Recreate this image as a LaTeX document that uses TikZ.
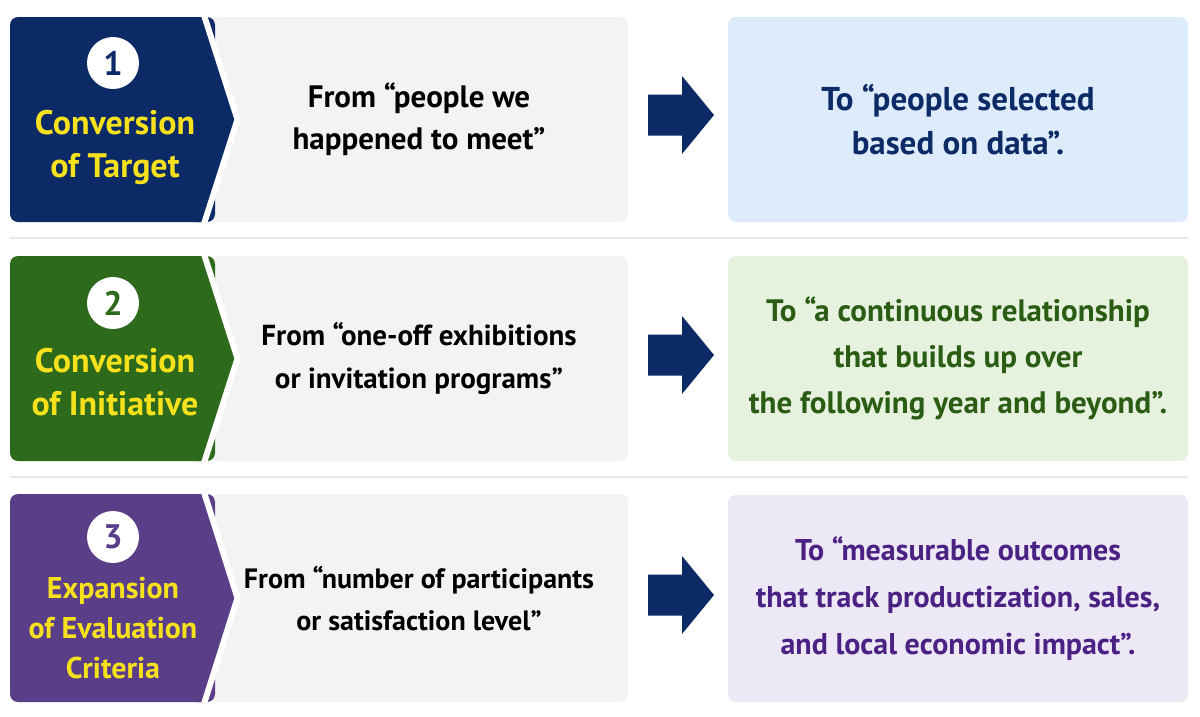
\documentclass[tikz,border=0pt]{standalone}
\usepackage{fontspec}
\setmainfont{PT Sans}
\usetikzlibrary{positioning,calc}

\definecolor{navyband}{HTML}{0B2A66}
\definecolor{greenband}{HTML}{2D6A1B}
\definecolor{purpleband}{HTML}{5A3F88}
\definecolor{badgeyellow}{HTML}{F6E11C}
\definecolor{fromgray}{HTML}{F3F3F3}
\definecolor{toblue}{HTML}{DDEBFA}
\definecolor{togreen}{HTML}{E7F2DE}
\definecolor{topurple}{HTML}{ECE8F5}
\definecolor{greentext}{HTML}{2A5C14}
\definecolor{purpletext}{HTML}{4B2283}
\definecolor{rulegray}{HTML}{E9E9E9}

\newcommand{\blockarrow}[1]{%
  \fill[navyband] ($(#1)+(-33,-20.5)$) -- ($(#1)+(1,-20.5)$) -- ($(#1)+(1,-39)$)
    -- ($(#1)+(33,0)$) -- ($(#1)+(1,39)$) -- ($(#1)+(1,20.5)$)
    -- ($(#1)+(-33,20.5)$) -- cycle;}

\tikzset{
  x=1pt, y=-1pt,
  panel/.style={rounded corners=8pt, inner sep=0pt, minimum height=205pt, align=center},
  frombox/.style={panel, fill=fromgray, minimum width=418pt, text=black},
  tobox/.style={panel, minimum width=460pt},
  numdot/.style={circle, fill=white, minimum size=52pt, inner sep=0pt,
    font=\fontsize{34}{34}\selectfont\bfseries},
  badgetext/.style={text=badgeyellow, align=center,
    font=\fontsize{34}{43}\selectfont\bfseries},
}

\begin{document}
\begin{tikzpicture}
  \useasboundingbox[fill=white] (0,0) rectangle (1200,716);

  % separators
  \draw[rulegray, line width=2pt] (10,238) -- (1188,238);
  \draw[rulegray, line width=2pt] (10,477) -- (1188,477);

  % row 1
  \node[frombox, font=\fontsize{31}{42}\selectfont\bfseries] (from1) at (419,119.5) {From “people we\\happened to meet”};
  \fill[navyband, rounded corners=8pt] (10,17) rectangle (215,222);
  \fill[navyband] (195,17) -- (203,17) -- (237,119.5) -- (203,222) -- (195,222) -- cycle;
  \draw[white, line width=6pt] (203,12) -- (237.5,119.5) -- (203,227);
  \node[numdot, text=navyband] (num1) at (113,63) {1};
  \node[badgetext] (badge1) at (115,147) {Conversion\\of Target};
  \node[tobox, fill=toblue, text=navyband, font=\fontsize{33}{44}\selectfont\bfseries] (to1) at (958,119.5) {To “people selected\\based on data”.};
  \coordinate (arr1) at (681,115);
  \blockarrow{arr1}

  % row 2
  \node[frombox, font=\fontsize{29}{43}\selectfont\bfseries] (from2) at (419,358.5) {From “one-off exhibitions\\or invitation programs”};
  \fill[greenband, rounded corners=8pt] (10,256) rectangle (215,461);
  \fill[greenband] (195,256) -- (203,256) -- (237,358.5) -- (203,461) -- (195,461) -- cycle;
  \draw[white, line width=6pt] (203,251) -- (237.5,358.5) -- (203,466);
  \node[numdot, text=greenband] (num2) at (113,303) {2};
  \node[badgetext] (badge2) at (115,382) {Conversion\\of Initiative};
  \node[tobox, fill=togreen, text=greentext, font=\fontsize{31}{46}\selectfont\bfseries] (to2) at (958,358.5) {To “a continuous relationship\\that builds up over\\the following year and beyond”.};
  \coordinate (arr2) at (681,355);
  \blockarrow{arr2}

  % row 3
  \node[frombox, minimum height=208pt, font=\fontsize{28}{42}\selectfont\bfseries] (from3) at (419,598) {From “number of participants\\or satisfaction level”};
  \fill[purpleband, rounded corners=8pt] (10,494) rectangle (215,702);
  \fill[purpleband] (195,494) -- (203,494) -- (237,598) -- (203,702) -- (195,702) -- cycle;
  \draw[white, line width=6pt] (203,489) -- (237.5,598) -- (203,707);
  \node[numdot, text=purpleband] (num3) at (113,537) {3};
  \node[badgetext, font=\fontsize{30}{40}\selectfont\bfseries] (badge3) at (113,628) {Expansion\\of Evaluation\\Criteria};
  \node[tobox, fill=topurple, text=purpletext, minimum height=207pt, font=\fontsize{30}{47}\selectfont\bfseries] (to3) at (958,598.5) {To “measurable outcomes\\that track productization, sales,\\and local economic impact”.};
  \coordinate (arr3) at (681,595);
  \blockarrow{arr3}
\end{tikzpicture}
\end{document}
